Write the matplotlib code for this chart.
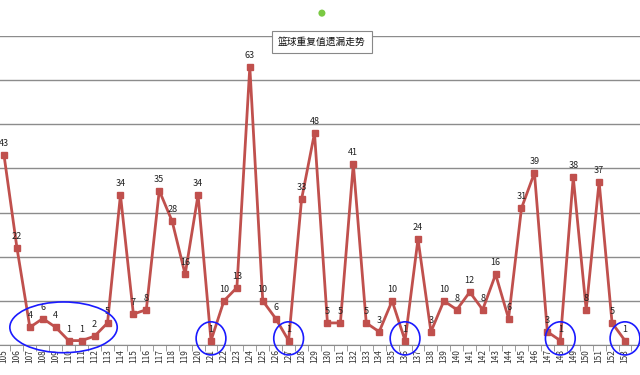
import matplotlib.pyplot as plt
import numpy as np
from matplotlib.patches import Ellipse

plt.rcParams['font.family'] = ['Noto Sans CJK SC', 'DejaVu Sans']

# issue numbers and repeat-value gaps
issues = list(range(105, 154))
values = [43, 22, 4, 6, 4, 1, 1, 2, 5, 34,
          7, 8, 35, 28, 16, 34, 1, 10, 13, 63,
          10, 6, 1, 33, 48, 5, 5, 41, 5, 3,
          10, 1, 24, 3, 10, 8, 12, 8, 16, 6,
          31, 39, 3, 1, 38, 8, 37, 5, 1]
title = '篮球重复值遗漏走势'

# groups of issues circled by hand in blue
circled = [(107, 113), (121, 121), (127, 127), (136, 136), (148, 148), (153, 153)]

line_color = '#C0504D'

fig = plt.figure(figsize=(6.4, 3.75), dpi=100)
ax = fig.add_axes([0, 0.08, 1.0, 0.824])

x = np.arange(len(issues))
ax.plot(x, values, color=line_color, lw=2, marker='s', ms=5,
        markerfacecolor=line_color, markeredgecolor=line_color, zorder=3)

for xi, v in zip(x, values):
    ax.annotate(str(v), xy=(xi, v), xytext=(0, 5), textcoords='offset points',
                ha='center', va='bottom', fontsize=6.5, color='#222222', zorder=4)

ax.set_xlim(-0.31, len(issues) + 0.16)
ax.set_ylim(0, 70)
ax.set_yticks(np.arange(0, 71, 10))
ax.yaxis.grid(True, color='#8c8c8c', lw=1)
ax.set_axisbelow(True)
ax.tick_params(axis='y', left=False, labelleft=False)

ax.set_xticks(x)
ax.set_xticklabels([str(i) for i in issues], rotation=90, fontsize=6, color='#333333')
ax.set_xticks(x + 0.5, minor=True)
ax.tick_params(axis='x', which='major', length=0, pad=3)
ax.tick_params(axis='x', which='minor', length=4, color='#8c8c8c')

for side in ['top', 'right', 'left']:
    ax.spines[side].set_visible(False)
ax.spines['bottom'].set_color('#8c8c8c')

# blue hand-drawn rings
for a, b in circled:
    i0, i1 = issues.index(a), issues.index(b)
    seg = values[i0:i1 + 1]
    cx = (i0 + i1) / 2 - (0.4 if i1 > i0 else 0)
    cy = (min(seg) + max(seg)) / 2 + 0.5
    w = (i1 - i0) + 2.3 if i1 > i0 else 2.3
    h = max(seg) - min(seg) + 6.5 if i1 > i0 else 7.5
    ax.add_patch(Ellipse((cx, cy), w, h, fill=False, ec='#1a1aff', lw=1.2,
                         clip_on=False, zorder=5))

# title box
fig.text(0.503, 0.888, title, ha='center', va='center', fontsize=7, color='#111111',
         bbox=dict(boxstyle='square,pad=0.6', fc='white', ec='#888888', lw=0.8))
fig.patches.append(Ellipse((0.503, 0.965), 0.011, 0.019, transform=fig.transFigure,
                           fc='#7ac943', ec='none'))

fig.savefig('out.png', dpi=100)
